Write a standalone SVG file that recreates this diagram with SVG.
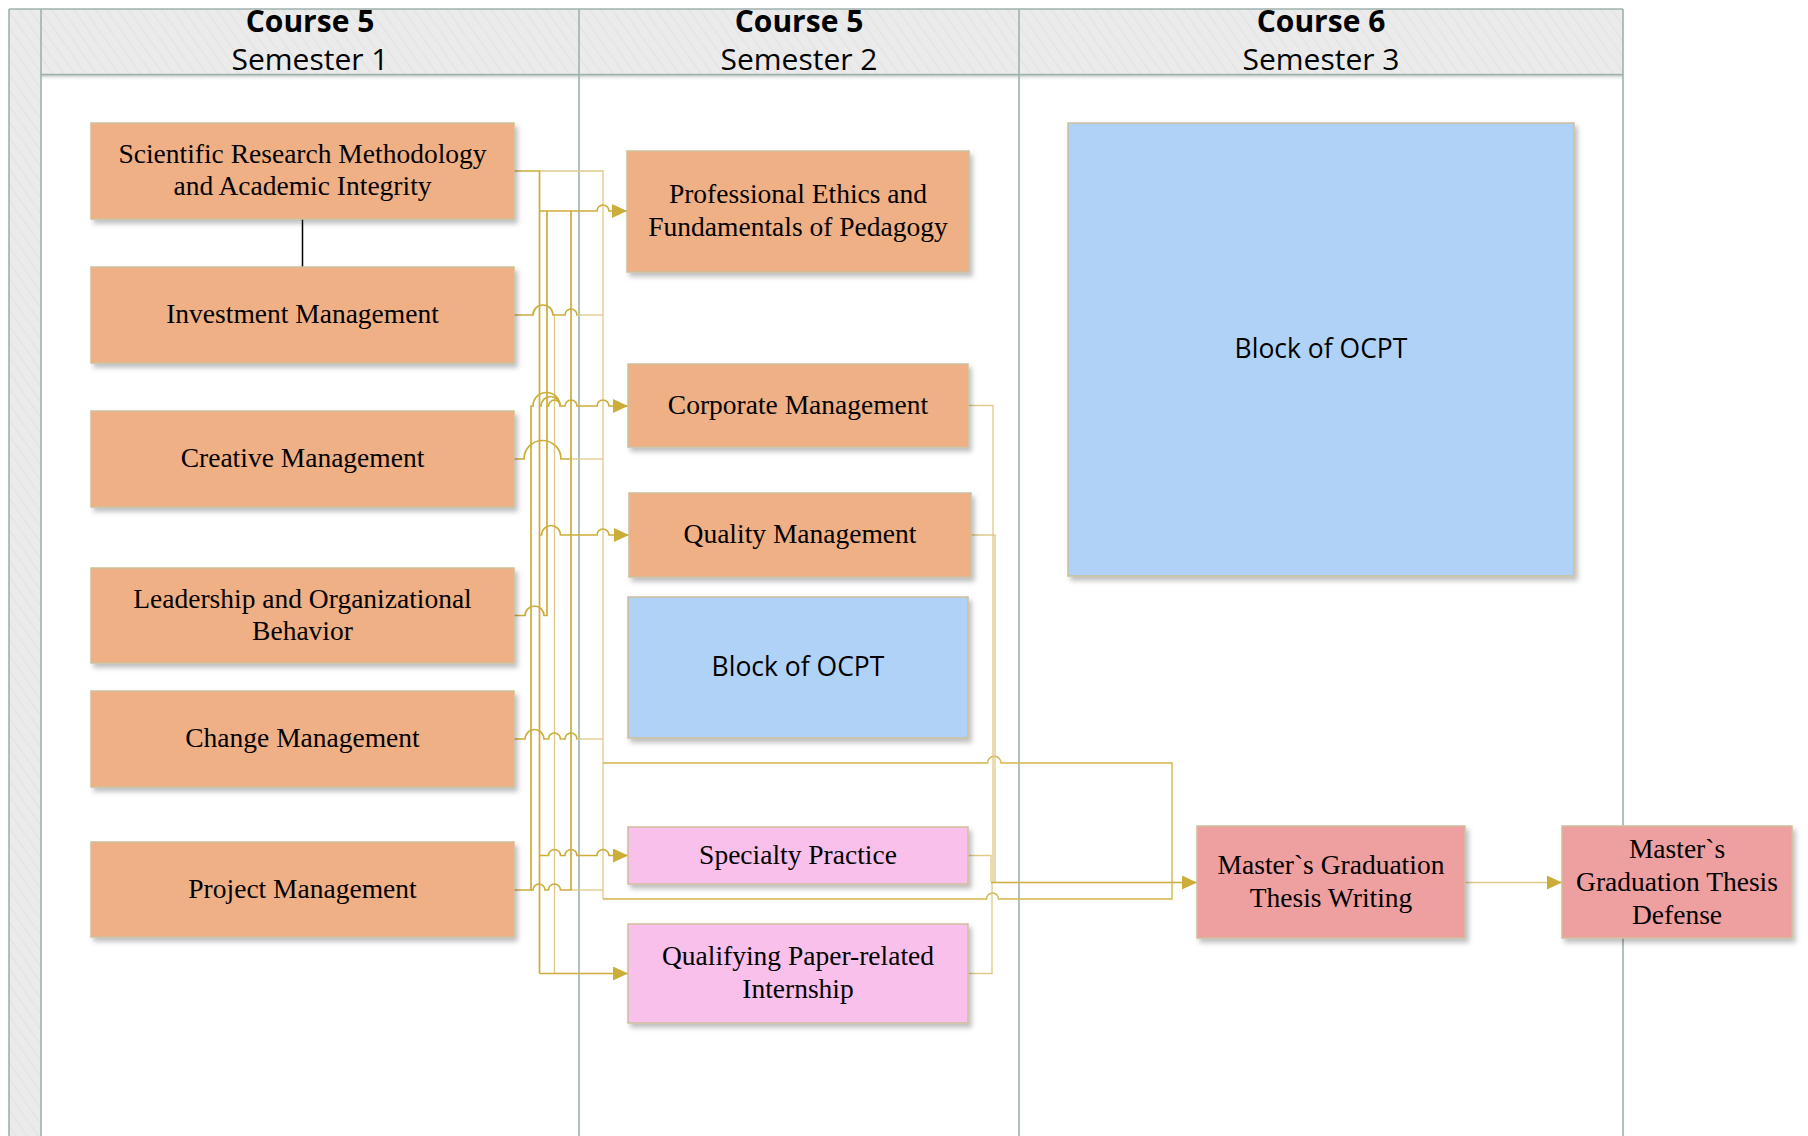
<svg xmlns="http://www.w3.org/2000/svg" width="1808" height="1136" viewBox="0 0 1808 1136">
<defs>
<pattern id="hatch" width="9" height="9" patternUnits="userSpaceOnUse" patternTransform="rotate(-35)">
<rect width="9" height="9" fill="#EBEBEB"/>
<line x1="0" y1="0" x2="0" y2="9" stroke="#E4E4E4" stroke-width="3"/>
</pattern>
<linearGradient id="hshadow" x1="0" y1="0" x2="0" y2="1">
<stop offset="0" stop-color="#B9C3C1" stop-opacity="0.9"/>
<stop offset="1" stop-color="#FFFFFF" stop-opacity="0"/>
</linearGradient>
<filter id="shadow" x="-10%" y="-10%" width="125%" height="130%">
<feDropShadow dx="3" dy="4" stdDeviation="2.5" flood-color="#000" flood-opacity="0.25"/>
</filter>
<marker id="arr" markerUnits="userSpaceOnUse" markerWidth="15" markerHeight="14" refX="15" refY="7" orient="auto">
<path d="M0,0 L15,7 L0,14 z" fill="#CDAD3A"/>
</marker>
<style>
.lane{stroke:#9EB2AD;stroke-width:1.6;fill:none}
.hdr-b{font-family:"Open Sans","Noto Sans",sans-serif;font-weight:bold;font-size:30px;fill:#000;text-anchor:middle}
.hdr{font-family:"Open Sans","Noto Sans",sans-serif;font-size:30px;fill:#000;text-anchor:middle}
.box{stroke:#CDBF9D;stroke-width:1.5;filter:url(#shadow)}
.or{fill:#F0B085}
.bl{fill:#B1D2F7}
.pk{fill:#F9C0EC}
.rd{fill:#EE9FA0}
.t{font-family:"Liberation Serif","Times New Roman",serif;font-size:27.5px;fill:#000;text-anchor:middle}
.ts{font-family:"Open Sans","Noto Sans",sans-serif;font-size:26.5px;fill:#000;text-anchor:middle}
.c{fill:none;stroke:#CDAD3A;stroke-width:1.7}
.cl{fill:none;stroke:#DDC98A;stroke-width:1.3}
.cm{fill:none;stroke:#D3B64C;stroke-width:1.4}
.ca{marker-end:url(#arr)}
</style>
</defs>
<rect width="1808" height="1136" fill="#FFFFFF"/>
<g id="swimlanes">
<rect x="9" y="9" width="32" height="1127" fill="url(#hatch)"/>
<rect x="41" y="9" width="1582" height="65" fill="url(#hatch)"/>
<rect x="41" y="75" width="1582" height="6" fill="url(#hshadow)"/>
<line class="lane" x1="9" y1="9" x2="1623" y2="9"/>
<line class="lane" x1="41" y1="74.5" x2="1623" y2="74.5" stroke-width="2"/>
<line class="lane" x1="9" y1="9" x2="9" y2="1136"/>
<line class="lane" x1="41" y1="9" x2="41" y2="1136"/>
<line class="lane" x1="579" y1="9" x2="579" y2="1136"/>
<line class="lane" x1="1019" y1="9" x2="1019" y2="1136"/>
<line class="lane" x1="1623" y1="9" x2="1623" y2="1136"/>
<text class="hdr-b" x="310" y="32">Course 5</text>
<text class="hdr" x="310" y="70">Semester 1</text>
<text class="hdr-b" x="799" y="32">Course 5</text>
<text class="hdr" x="799" y="70">Semester 2</text>
<text class="hdr-b" x="1321" y="32">Course 6</text>
<text class="hdr" x="1321" y="70">Semester 3</text>
</g>
<g id="connectors">
<path d="M302.5,219 V267" stroke="#000" stroke-width="1.5" fill="none"/>
<path class="cl" d="M554.5,315 V973.5"/>
<path class="cl" d="M539.5,171 H603 V899"/>
<path class="cl" d="M577.5,315 H603"/>
<path class="cl" d="M571,459 H603"/>
<path class="cl" d="M577.5,739 H603"/>
<path class="cl" d="M571,890 H603"/>
<path class="cm" d="M603,763 H987.5 A6.7,6.7 0 0 1 1001,763 H1172 V899 H998.5 A6,6 0 0 0 986.5,899 H603"/>
<path class="c" d="M514,171 H539.5 V973.5"/>
<path class="c ca" d="M539.5,211 H597 A6,6 0 0 1 609,211 H627"/>
<path class="c ca" d="M539.5,973.5 H628"/>
<path class="c ca" d="M539.5,535 H541.5 A9.5,9.5 0 0 1 560.5,535 H597 A6,6 0 0 1 609,535 H629"/>
<path class="c ca" d="M539.5,855.5 H548.5 A6,6 0 0 1 560.5,855.5 H565 A6,6 0 0 1 577,855.5 H597 A6,6 0 0 1 609,855.5 H628"/>
<path class="c" d="M514,615.5 H525 A9.5,9.5 0 0 1 544,615.5 H547 V211"/>
<path class="c ca" d="M514,890 H531 V406 H533 A13.5,13.5 0 0 1 560,406 H565 A6,6 0 0 1 577,406 H597 A6,6 0 0 1 609,406 H628"/>
<path class="c" d="M539.5,406 H541 A9.5,9.5 0 0 1 560,406"/>
<path class="c" d="M547,406 H548.5 A6,6 0 0 1 560.5,406"/>
<path class="c" d="M531,890 H533 A6,6 0 0 1 545,890 H548.5 A6,6 0 0 1 560.5,890 H571 V211"/>
<path class="c" d="M514,315 H533 A10,10 0 0 1 553,315 H565 A6,6 0 0 1 577,315 H577.5"/>
<path class="c" d="M514,459 H524 A18.5,18.5 0 0 1 561,459 H571"/>
<path class="c" d="M514,739 H525 A9.5,9.5 0 0 1 544,739 H548.5 A6,6 0 0 1 560.5,739 H565 A6,6 0 0 1 577,739 H577.5"/>
<path class="cl" d="M968,405.5 H993 V882"/>
<path class="cl" d="M971,535 H995 V882"/>
<path class="cl" d="M968,855.5 H991 V882"/>
<path class="cl" d="M968,973.5 H992 V882"/>
<path class="c ca" d="M991,882.5 H1197" stroke-width="2"/>
<path class="cl ca" d="M1465,882.5 H1562"/>
</g>
<g id="n-scientific"><rect class="box or" x="91" y="123" width="423" height="96"/><text class="t" x="302.5" y="162.5">Scientific Research Methodology</text><text class="t" x="302.5" y="195">and Academic Integrity</text></g>
<g id="n-investment"><rect class="box or" x="91" y="267" width="423" height="96"/><text class="t" x="302.5" y="323">Investment Management</text></g>
<g id="n-creative"><rect class="box or" x="91" y="411" width="423" height="96"/><text class="t" x="302.5" y="467">Creative Management</text></g>
<g id="n-leadership"><rect class="box or" x="91" y="568" width="423" height="95"/><text class="t" x="302.5" y="607.5">Leadership and Organizational</text><text class="t" x="302.5" y="640">Behavior</text></g>
<g id="n-change"><rect class="box or" x="91" y="691" width="423" height="96"/><text class="t" x="302.5" y="747">Change Management</text></g>
<g id="n-project"><rect class="box or" x="91" y="842" width="423" height="95"/><text class="t" x="302.5" y="898">Project Management</text></g>
<g id="n-ethics"><rect class="box or" x="627" y="151" width="342" height="121"/><text class="t" x="798" y="202.5">Professional Ethics and</text><text class="t" x="798" y="235.5">Fundamentals of Pedagogy</text></g>
<g id="n-corporate"><rect class="box or" x="628" y="364" width="340" height="83"/><text class="t" x="798" y="413.5">Corporate Management</text></g>
<g id="n-quality"><rect class="box or" x="629" y="493" width="342" height="84"/><text class="t" x="800" y="543">Quality Management</text></g>
<g id="n-ocpt2"><rect class="box bl" x="628" y="597" width="340" height="141"/><text class="ts" x="798" y="676">Block of OCPT</text></g>
<g id="n-specialty"><rect class="box pk" x="628" y="827" width="340" height="57"/><text class="t" x="798" y="863.5">Specialty Practice</text></g>
<g id="n-qualifying"><rect class="box pk" x="628" y="924" width="340" height="99"/><text class="t" x="798" y="965">Qualifying Paper-related</text><text class="t" x="798" y="998">Internship</text></g>
<g id="n-ocpt3"><rect class="box bl" x="1068" y="123" width="506" height="453"/><text class="ts" x="1321" y="358">Block of OCPT</text></g>
<g id="n-writing"><rect class="box rd" x="1197" y="826" width="268" height="112"/><text class="t" x="1331" y="874">Master`s Graduation</text><text class="t" x="1331" y="907">Thesis Writing</text></g>
<g id="n-defense"><rect class="box rd" x="1562" y="826" width="230" height="112"/><text class="t" x="1677" y="858">Master`s</text><text class="t" x="1677" y="891">Graduation Thesis</text><text class="t" x="1677" y="924">Defense</text></g>
</svg>
